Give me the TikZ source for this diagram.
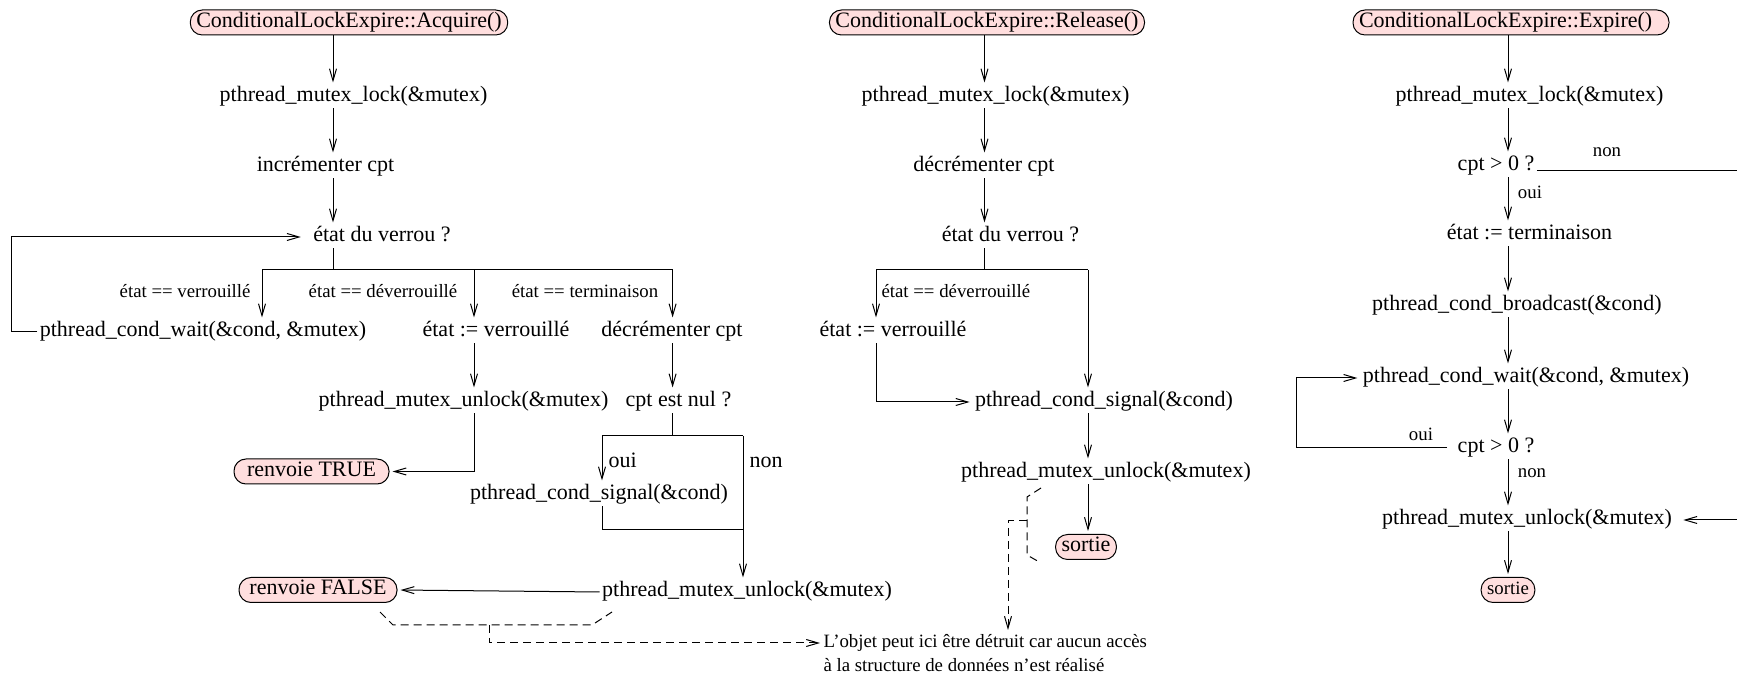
\documentclass[tikz,border=0pt]{standalone}
\usepackage{fontspec}
\setmainfont{Liberation Serif}
\usetikzlibrary{arrows.meta}

\definecolor{termpink}{RGB}{255,222,222}

\begin{document}
\begin{tikzpicture}[
    x=0.5pt, y=-0.5pt,
    line width=0.5pt,
    >={Straight Barb[length=6pt,width=3.5pt]},
    txt/.style={inner sep=0pt, inner xsep=1pt, text height=8pt, text depth=3pt,
        font=\fontsize{11}{13}\selectfont},
    lbl/.style={inner sep=0pt, text height=7pt, text depth=2.5pt,
        font=\fontsize{9.4}{11}\selectfont},
    term/.style={draw, fill=termpink, rounded corners=6pt, inner xsep=3pt,
        inner ysep=0.75pt, text height=8pt, text depth=3pt,
        font=\fontsize{11}{13}\selectfont},
    arr/.style={->, shorten >=1.5pt},
    dashy/.style={dash pattern=on 4pt off 2.5pt},
]
\useasboundingbox (0,0) rectangle (1737,678);
\clip (0,0) rectangle (1737,678);

% === Acquire ===
\node[term] (acqA) at (349,22.5) {ConditionalLockExpire::Acquire()};
\node[txt] (lockA) at (353.5,97) {pthread\_mutex\_lock(\&mutex)};
\node[txt] (incA) at (325.5,167) {incrémenter cpt};
\node[txt] (etatA) at (382,237) {état du verrou ?};
\node[txt] (waitA) at (203,332) {pthread\_cond\_wait(\&cond, \&mutex)};
\node[txt] (verA) at (496,332) {état := verrouillé};
\node[txt] (decA) at (672,332) {décrémenter cpt};
\node[txt] (unlockA) at (463.5,402) {pthread\_mutex\_unlock(\&mutex)};
\node[txt] (nulA) at (678.5,402) {cpt est nul ?};
\node[term, minimum width=77.5pt] (trueA) at (311.5,471.5) {renvoie TRUE};
\node[txt] (signalA) at (599,495) {pthread\_cond\_signal(\&cond)};
\node[txt] (unlockA2) at (747,592) {pthread\_mutex\_unlock(\&mutex)};
\node[term, minimum width=79pt] (falseA) at (318,590) {renvoie FALSE};

% branch labels
\node[lbl, anchor=east] (lvA) at (251,293) {état == verrouillé};
\node[lbl] (ldA) at (383,293) {état == déverrouillé};
\node[lbl] (ltA) at (585,293) {état == terminaison};
\node[txt, anchor=west] (ouiA) at (606,463) {oui};
\node[txt, anchor=west] (nonA) at (747,463) {non};

\coordinate (colA) at (333,0);
\coordinate (loopA) at (11,0);
\coordinate (brA) at (333,270);
\coordinate (br1) at (262,270);
\coordinate (br2) at (474,270);
\coordinate (br3) at (672.6,270);
\coordinate (yesA) at (602,436);
\coordinate (noA) at (743,436);
\coordinate (joinA) at (743,530);

\draw[arr] (acqA.south -| colA) -- (lockA.north -| colA);
\draw[arr] (lockA.south -| colA) -- (incA.north -| colA);
\draw[arr] (incA.south -| colA) -- (etatA.north -| colA);
\draw (etatA.south -| colA) -- (brA);
\draw (br1) -- (br3);
\draw[arr] (br1) -- (br1 |- waitA.north);
\draw[arr] (br2) -- (br2 |- verA.north);
\draw[arr] (br3) -- (br3 |- decA.north);
\draw[->, shorten >=5pt] (waitA.west) -- (loopA |- waitA.west) |- (etatA.west);
\draw[arr] (verA.south -| br2) -- (unlockA.north -| br2);
\draw[arr] (decA.south -| br3) -- (nulA.north -| br3);
\draw[arr] (unlockA.south -| br2) |- (trueA.east);
\draw (nulA.south -| br3) -- (br3 |- yesA);
\draw (yesA) -- (noA);
\draw[arr] (yesA) -- (yesA |- signalA.north);
\draw[arr] (noA) -- (noA |- unlockA2.north);
\draw (signalA.south -| yesA) |- (joinA);
\draw[arr] (unlockA2.west) -- (falseA.east);

% === Release ===
\node[term] (relB) at (987,22.5) {ConditionalLockExpire::Release()};
\node[txt] (lockB) at (995.5,97) {pthread\_mutex\_lock(\&mutex)};
\node[txt] (decB) at (984,167) {décrémenter cpt};
\node[txt] (etatB) at (1010.5,237) {état du verrou ?};
\node[lbl, anchor=west] (ldB) at (881,293) {état == déverrouillé};
\node[txt] (verB) at (893,332) {état := verrouillé};
\node[txt] (signalB) at (1104,402) {pthread\_cond\_signal(\&cond)};
\node[txt] (unlockB) at (1106,473) {pthread\_mutex\_unlock(\&mutex)};
\node[term] (sortieB) at (1086,547) {sortie};

\coordinate (colB) at (984.5,0);
\coordinate (brB) at (984.5,270);
\coordinate (br4) at (876,270);
\coordinate (br5) at (1088,270);

\draw[arr] (relB.south -| colB) -- (lockB.north -| colB);
\draw[arr] (lockB.south -| colB) -- (decB.north -| colB);
\draw[arr] (decB.south -| colB) -- (etatB.north -| colB);
\draw (etatB.south -| colB) -- (brB);
\draw (br4) -- (br5);
\draw[arr] (br4) -- (br4 |- verB.north);
\draw[arr] (br5) -- (br5 |- signalB.north);
\draw[arr] (verB.south -| br4) |- (signalB.west);
\draw[arr] (signalB.south -| br5) -- (unlockB.north -| br5);
\draw[arr] (unlockB.south -| br5) -- (sortieB.north -| br5);

% === Expire ===
\node[term, text width=152pt, align=left] (expC) at (1511,22.5) {ConditionalLockExpire::Expire()};
\node[txt] (lockC) at (1529.5,97) {pthread\_mutex\_lock(\&mutex)};
\node[txt] (gtC) at (1496,166) {cpt > 0 ?};
\node[txt] (termC) at (1529.5,235) {état := terminaison};
\node[txt] (bcastC) at (1517,306) {pthread\_cond\_broadcast(\&cond)};
\node[txt] (waitC) at (1526,378) {pthread\_cond\_wait(\&cond, \&mutex)};
\node[txt] (gt2C) at (1496,448) {cpt > 0 ?};
\node[txt] (unlockC) at (1527,520) {pthread\_mutex\_unlock(\&mutex)};
\node[term, font=\fontsize{9.4}{11}\selectfont] (sortieC) at (1508,590) {sortie};

\node[lbl] (nonC) at (1607,152) {non};
\node[lbl] (ouiC) at (1530,194) {oui};
\node[lbl] (ouiC2) at (1421,436) {oui};
\node[lbl] (nonC2) at (1532,473) {non};

\coordinate (colC) at (1508,0);
\coordinate (loopC) at (1296,0);
\coordinate (edgeC) at (1760,0);

\draw[arr] (expC.south -| colC) -- (lockC.north -| colC);
\draw[arr] (lockC.south -| colC) -- (gtC.north -| colC);
\draw[arr] (gtC.south -| colC) -- (termC.north -| colC);
\draw[arr] (termC.south -| colC) -- (bcastC.north -| colC);
\draw[arr] (bcastC.south -| colC) -- (waitC.north -| colC);
\draw[arr] (waitC.south -| colC) -- (gt2C.north -| colC);
\draw[arr] (gt2C.south -| colC) -- (unlockC.north -| colC);
\draw[arr] (unlockC.south -| colC) -- (sortieC.north -| colC);
\draw[arr, shorten <=4pt] (gt2C.west) -- (loopC |- gt2C.west) |- (waitC.west);
\draw[->, shorten >=4.5pt] (gtC.base east) -| (edgeC |- unlockC.east) -- (unlockC.east);

% === Note (dashed) ===
\node[lbl, anchor=west] (note1) at (823,643) {L’objet peut ici être détruit car aucun accès};
\node[lbl, anchor=west] (note2) at (823,667) {à la structure de données n’est réalisé};

\coordinate (braceA) at (489,625);
\coordinate (braceB) at (1027,521);
\coordinate (dropB) at (1008,521);

\draw[dashy] (380,612) -- (393,625) -- (592,625) -- (612,612);
\draw[dashy, arr] (braceA) -- (braceA |- note1.west) -- (note1.west);
\draw[dashy] (1041,488) -- (1027,497) -- (1027,555) -- (1041,563);
\draw[dashy, arr] (braceB) -- (dropB) -- (dropB |- note1.north);

\end{tikzpicture}
\end{document}
